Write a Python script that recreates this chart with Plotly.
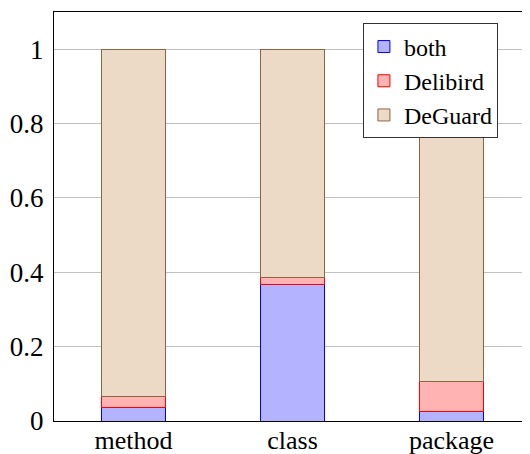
import plotly.graph_objects as go

categories = ["method", "class", "package"]
both = [0.036, 0.367, 0.026]
delibird = [0.029, 0.019, 0.079]
deguard = [0.935, 0.614, 0.895]
y_ticks = [0, 0.2, 0.4, 0.6, 0.8, 1]
y_tick_labels = ["0", "0.2", "0.4", "0.6", "0.8", "1"]

series = [
    ("both", both, "#b3b3ff", "#0000ff"),
    ("Delibird", delibird, "#ffb3b3", "#ff0000"),
    ("DeGuard", deguard, "#ecd9c6", "#8b6642"),
]

fig = go.Figure()
for name, vals, fill, line in series:
    fig.add_trace(go.Bar(
        x=categories, y=vals, name=name, width=0.4,
        marker=dict(color=fill, line=dict(color=line, width=1)),
    ))

serif = "'Liberation Serif', 'Times New Roman', serif"
# page body has an 8px default margin; figure sized to fill the remaining window
fig.update_layout(
    width=522, height=446,
    margin=dict(l=46, r=0, t=4, b=33),
    barmode="stack",
    plot_bgcolor="white", paper_bgcolor="white",
    font=dict(family=serif, size=26, color="black"),
    showlegend=True,
    legend=dict(
        x=0.649, y=0.972, xanchor="left", yanchor="top",
        traceorder="normal",
        bordercolor="#333333", borderwidth=1, bgcolor="white",
        font=dict(family=serif, size=24),
    ),
    xaxis=dict(
        range=[-0.5, 2.494], showline=True, linecolor="black", linewidth=1,
        mirror=True, showgrid=False, ticks="", automargin=False,
        tickfont=dict(family=serif, size=26), ticklabelstandoff=-4,
    ),
    yaxis=dict(
        range=[0, 1.1], tickvals=y_ticks, ticktext=y_tick_labels,
        showline=True, linecolor="black", linewidth=1, automargin=False,
        showgrid=True, gridcolor="#c0c0c0", gridwidth=1, zeroline=False,
        ticks="", tickfont=dict(family=serif, size=27), ticklabelstandoff=4,
    ),
)
fig.write_html("out.html")
